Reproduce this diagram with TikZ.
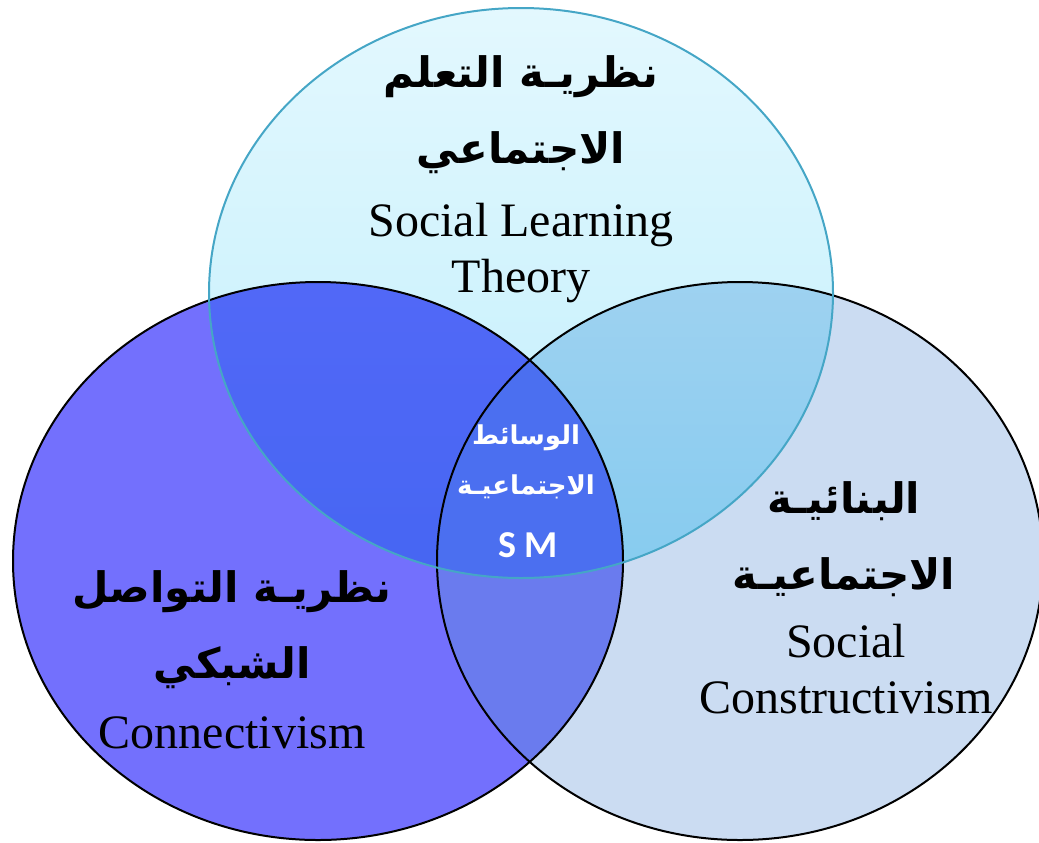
\documentclass[tikz,border=0pt]{standalone}
\usepackage{fontspec}
\setmainfont{Liberation Serif}
\newfontfamily\arabicfont[Script=Arabic]{DejaVu Sans}
\newfontfamily\smfont{Carlito}
\TeXXeTstate=1
\definecolor{leftfill}{HTML}{7370FD}
\definecolor{rightfill}{HTML}{CBDCF2}
\definecolor{lrfill}{HTML}{6A7BEE}
\definecolor{centrefill}{HTML}{4B6FF0}
\definecolor{topline}{HTML}{45A6C6}
\definecolor{toptop}{HTML}{E3F8FE}
\definecolor{topbottom}{HTML}{BFEEFC}
\begin{document}
\begin{tikzpicture}[x=0.5pt,y=-0.5pt,
  ar/.style={align=center,inner sep=0pt,font=\arabicfont\bfseries\fontsize{21}{38}\selectfont},
  en/.style={align=center,inner sep=0pt,anchor=base,font=\fontsize{24}{28}\selectfont},
  mid/.style={align=center,inner sep=0pt,text=white}]
\useasboundingbox (0,0) rectangle (1039,842);
% the three sets
\fill[leftfill] (318,561) ellipse [x radius=305,y radius=279];
\fill[rightfill] (740,561) ellipse [x radius=303,y radius=279];
\shade[top color=toptop,bottom color=topbottom] (521,293) ellipse [x radius=312,y radius=285];
\begin{scope}
\clip (318,561) ellipse [x radius=305,y radius=279];
\fill[lrfill] (740,561) ellipse [x radius=303,y radius=279];
\shade[top color={rgb,255:red,92;green,106;blue,252},bottom color={rgb,255:red,70;green,102;blue,242}] (521,293) ellipse [x radius=312,y radius=285];
\end{scope}
\begin{scope}
\clip (740,561) ellipse [x radius=303,y radius=279];
\shade[top color={rgb,255:red,180;green,216;blue,242},bottom color={rgb,255:red,134;green,203;blue,239}] (521,293) ellipse [x radius=312,y radius=285];
\end{scope}
\begin{scope}
\clip (318,561) ellipse [x radius=305,y radius=279];
\clip (740,561) ellipse [x radius=303,y radius=279];
\fill[centrefill] (521,293) ellipse [x radius=312,y radius=285];
\end{scope}
% outlines
\draw[line width=1pt] (318,561) ellipse [x radius=305,y radius=279];
\draw[line width=1pt] (740,561) ellipse [x radius=303,y radius=279];
\draw[topline,line width=1pt] (521,293) ellipse [x radius=312,y radius=285];

\node[ar] (topAr) at (521,115) {\beginR نظريـة التعلم\endR\\\beginR الاجتماعي\endR};
\node[en] (topEn) at (521,292) {Social Learning\\Theory};
\node[ar] (leftAr) at (232,630) {\beginR نظريـة التواصل\endR\\\beginR الشبكي\endR};
\node[en] (leftEn) at (232,748) {Connectivism};
\node[ar] (rightAr) at (844,539) {\beginR البنائيـة\endR\\\beginR الاجتماعيـة\endR};
\node[en] (rightEn) at (846,713) {Social\\Constructivism};
\node[mid,font=\arabicfont\bfseries\fontsize{13}{25}\selectfont] (midAr) at (526,462) {\beginR الوسائط\endR\\\beginR الاجتماعيـة\endR};
\node[mid,font=\smfont\bfseries\fontsize{19}{22}\selectfont] (midEn) at (528,545) {S M};
\end{tikzpicture}
\end{document}
